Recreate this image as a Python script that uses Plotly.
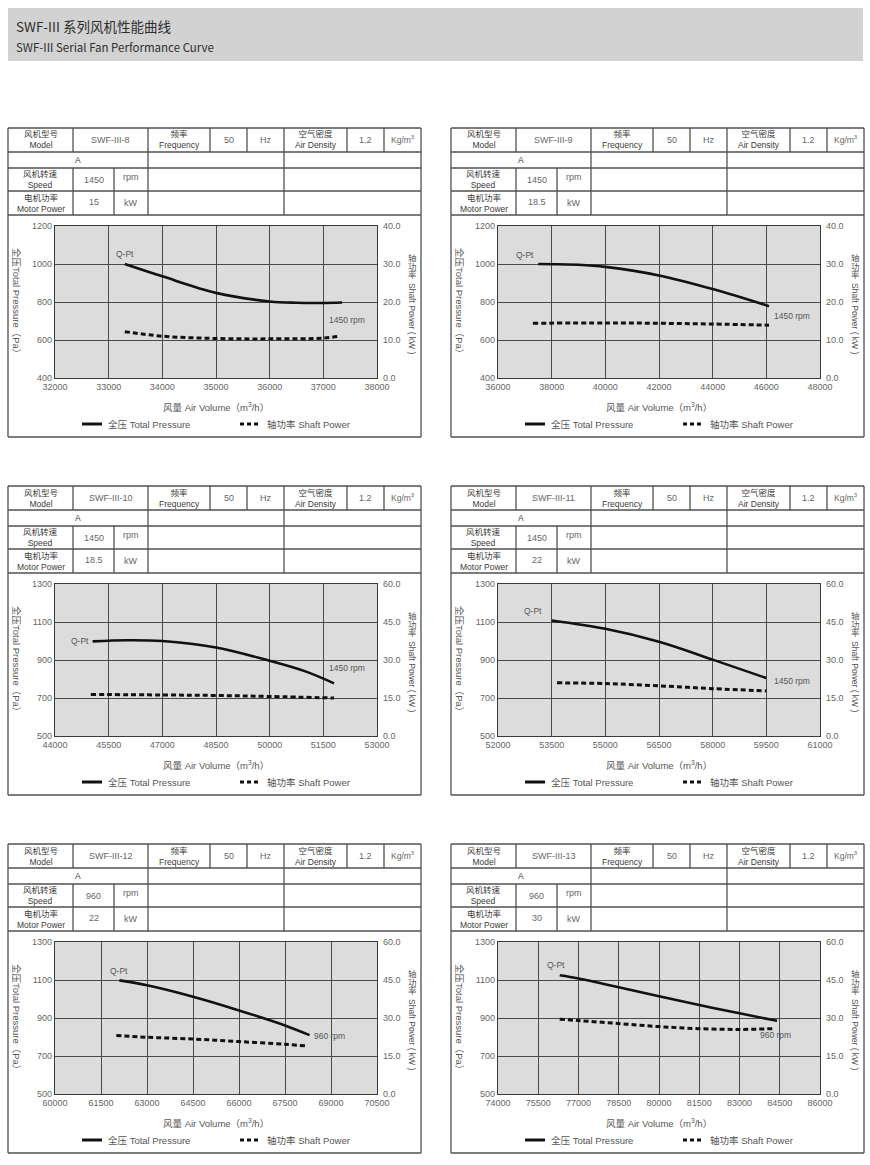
import plotly.graph_objects as go

W, H = 870, 1165

# table texts
models = ["SWF-III-8", "SWF-III-9", "SWF-III-10", "SWF-III-11", "SWF-III-12", "SWF-III-13"]
speeds = ["1450", "1450", "1450", "1450", "960", "960"]
motor_kw = ["15", "18.5", "18.5", "22", "22", "30"]
rpm_labels = ["1450 rpm", "1450 rpm", "1450 rpm", "1450 rpm", "960 rpm", "960 rpm"]

# axis ticks
x_ticks_8 = [32000, 33000, 34000, 35000, 36000, 37000, 38000]
x_ticks_9 = [36000, 38000, 40000, 42000, 44000, 46000, 48000]
x_ticks_10 = [44000, 45500, 47000, 48500, 50000, 51500, 53000]
x_ticks_11 = [52000, 53500, 55000, 56500, 58000, 59500, 61000]
x_ticks_12 = [60000, 61500, 63000, 64500, 66000, 67500, 69000, 70500]
x_ticks_13 = [74000, 75500, 77000, 78500, 80000, 81500, 83000, 84500, 86000]
p_ticks_a = [400, 600, 800, 1000, 1200]
p_ticks_b = [500, 700, 900, 1100, 1300]
w_ticks_a = [0, 10, 20, 30, 40]
w_ticks_b = [0, 15, 30, 45, 60]

# curves: air volume (m3/h), total pressure (Pa), shaft power (kW)
q_p_8 = [33300, 34000, 35000, 36000, 36500, 37000, 37350]
p_8 = [1000, 935, 848, 803, 796, 795, 797]
q_w_8 = [33300, 34000, 35000, 36000, 37000, 37300]
w_8 = [12.2, 11.0, 10.4, 10.3, 10.5, 11.0]

q_p_9 = [37500, 39000, 40000, 42000, 44000, 46100]
p_9 = [1000, 996, 985, 940, 868, 778]
q_w_9 = [37300, 40000, 42000, 44000, 46100]
w_9 = [14.4, 14.5, 14.4, 14.2, 13.9]

q_p_10 = [45050, 46000, 47000, 48500, 50000, 51000, 51800]
p_10 = [998, 1004, 1000, 966, 896, 840, 777]
q_w_10 = [45000, 47000, 48500, 50000, 51800]
w_10 = [16.4, 16.2, 16.0, 15.6, 15.0]

q_p_11 = [53500, 55000, 56500, 58000, 59500]
p_11 = [1108, 1064, 996, 902, 805]
q_w_11 = [53650, 55000, 56500, 58000, 59500]
w_11 = [21.0, 20.7, 19.8, 18.7, 17.8]

q_p_12 = [62100, 63000, 64500, 66000, 67500, 68300]
p_12 = [1098, 1072, 1012, 940, 861, 810]
q_w_12 = [62000, 63000, 64500, 66000, 67500, 68200]
w_12 = [23.1, 22.4, 21.7, 20.7, 19.6, 19.0]

q_p_13 = [76300, 77000, 78500, 80000, 81500, 83000, 84400]
p_13 = [1125, 1108, 1062, 1014, 968, 925, 885]
q_w_13 = [76300, 77000, 78500, 80000, 81500, 83000, 84300]
w_13 = [29.5, 29.0, 27.8, 26.6, 25.8, 25.5, 25.8]

charts = [
    (x_ticks_8, p_ticks_a, w_ticks_a, q_p_8, p_8, q_w_8, w_8),
    (x_ticks_9, p_ticks_a, w_ticks_a, q_p_9, p_9, q_w_9, w_9),
    (x_ticks_10, p_ticks_b, w_ticks_b, q_p_10, p_10, q_w_10, w_10),
    (x_ticks_11, p_ticks_b, w_ticks_b, q_p_11, p_11, q_w_11, w_11),
    (x_ticks_12, p_ticks_b, w_ticks_b, q_p_12, p_12, q_w_12, w_12),
    (x_ticks_13, p_ticks_b, w_ticks_b, q_p_13, p_13, q_w_13, w_13),
]

# label offsets (px) from curve start / end
qpt_offsets = [(0, 10), (-13, 9), (-13, 0), (-19, 9), (0, 9), (-4, 10)]
rpm_offsets = [(5, -17), (23, -10), (13, 15), (26, -3), (20, -1), (-2, -14)]

FONT = "Liberation Sans, Arial, Noto Sans CJK SC, sans-serif"
TXT = "#3a3a3a"
VAL = "#666"
LINE = "#505050"


def px(x):
    return x / W


def py(y):
    return 1 - y / H


fig = go.Figure()
shapes = []
annotations = []


def hline(x0, x1, y, color=LINE, width=1.3):
    shapes.append(dict(type="line", xref="paper", yref="paper", x0=px(x0), x1=px(x1),
                       y0=py(y), y1=py(y), line=dict(color=color, width=width)))


def vline(x, y0, y1, color=LINE, width=1.3):
    shapes.append(dict(type="line", xref="paper", yref="paper", x0=px(x), x1=px(x),
                       y0=py(y0), y1=py(y1), line=dict(color=color, width=width)))


def label(x, y, text, size=8, anchor="center", angle=0, color=TXT, family=FONT):
    annotations.append(dict(xref="paper", yref="paper", x=px(x), y=py(y), text=text,
                            showarrow=False, xanchor=anchor, yanchor="middle", textangle=angle,
                            font=dict(family=family, size=size, color=color)))


# header bar
shapes.append(dict(type="rect", xref="paper", yref="paper", x0=px(8), x1=px(863), y0=py(61), y1=py(8),
                   fillcolor="#d2d2d2", line=dict(width=0), layer="below"))
TITLE_FONT = "Noto Sans CJK SC, sans-serif"
label(14, 26, "SWF-III 系列风机性能曲线", size=13.5, anchor="left", color="#2e2e2e", family=TITLE_FONT)
label(14, 47, "SWF-III Serial Fan Performance Curve", size=11.5, anchor="left", color="#2e2e2e",
      family=TITLE_FONT)

panel_x = [8, 451]
panel_y = [128, 486, 844]

for i, (xt, pt, wt, qp, pp, qw, ww) in enumerate(charts):
    x0 = panel_x[i % 2]
    y0 = panel_y[i // 2]

    # ---- table ----
    for yy in [0, 24, 40, 63, 87, 309]:
        hline(x0, x0 + 413, y0 + yy)
    vline(x0, y0, y0 + 309)
    vline(x0 + 413, y0, y0 + 309)
    for xx in [65, 140, 202, 239, 276, 339, 376]:
        vline(x0 + xx, y0, y0 + 24)
    for xx in [140, 276]:
        vline(x0 + xx, y0 + 24, y0 + 87)
    for xx in [65, 106]:
        vline(x0 + xx, y0 + 40, y0 + 87)

    label(x0 + 32.5, y0 + 12, "风机型号<br>Model", size=8.5)
    label(x0 + 102.5, y0 + 12, models[i], size=9, color=VAL)
    label(x0 + 171, y0 + 12, "频率<br>Frequency", size=8.5)
    label(x0 + 220.5, y0 + 12, "50", size=9, color=VAL)
    label(x0 + 257.5, y0 + 12, "Hz", size=9, color=VAL)
    label(x0 + 307.5, y0 + 12, "空气密度<br>Air Density", size=8.5)
    label(x0 + 357.5, y0 + 12, "1.2", size=9, color=VAL)
    label(x0 + 394.5, y0 + 11, "Kg/m<sup>3</sup>", size=8.5, color=VAL)
    label(x0 + 70, y0 + 32, "A", size=8.5)
    label(x0 + 32.5, y0 + 51.5, "风机转速<br>Speed", size=8.5)
    label(x0 + 85.5, y0 + 52, speeds[i], size=9, color=VAL)
    label(x0 + 123, y0 + 49, "rpm", size=9, color=VAL)
    label(x0 + 32.5, y0 + 75, "电机功率<br>Motor Power", size=8.5)
    label(x0 + 85.5, y0 + 74, motor_kw[i], size=9, color=VAL)
    label(x0 + 123, y0 + 75, "kW", size=9, color=VAL)

    # ---- axes ----
    xid = "x" if i == 0 else f"x{i + 1}"
    yl = 2 * i + 1
    yr = 2 * i + 2
    ylid = "y" if yl == 1 else f"y{yl}"
    yrid = f"y{yr}"
    xdom = [px(x0 + 47), px(x0 + 369)]
    ydom = [py(y0 + 250), py(y0 + 98)]
    tick_font = dict(family=FONT, size=9, color="#666")

    fig.layout["xaxis" if i == 0 else f"xaxis{i + 1}"] = dict(
        domain=xdom, anchor=ylid, range=[xt[0], xt[-1]], tickvals=xt,
        ticktext=[str(v) for v in xt], showgrid=True, gridcolor="#4a4a4a", gridwidth=1,
        showline=True, linecolor="#3a3a3a", linewidth=1.3, mirror=True, zeroline=False,
        ticks="", tickfont=tick_font, fixedrange=True, automargin=False)
    fig.layout["yaxis" if yl == 1 else f"yaxis{yl}"] = dict(
        domain=ydom, anchor=xid, range=[pt[0], pt[-1]], tickvals=pt,
        showgrid=True, gridcolor="#4a4a4a", gridwidth=1, showline=True,
        linecolor="#3a3a3a", linewidth=1.3, mirror=True, zeroline=False,
        ticks="", tickfont=tick_font, fixedrange=True, automargin=False)
    fig.layout[f"yaxis{yr}"] = dict(
        overlaying=ylid, side="right", anchor=xid, range=[wt[0], wt[-1]], tickvals=wt,
        tickformat=".1f", showgrid=False, zeroline=False, ticks="", tickfont=tick_font,
        ticklabelstandoff=5, fixedrange=True, automargin=False)

    fig.add_trace(go.Scatter(x=qp, y=pp, xaxis=xid, yaxis=ylid, mode="lines",
                             line=dict(color="#111", width=2.6, shape="spline"),
                             showlegend=False, hoverinfo="skip"))
    fig.add_trace(go.Scatter(x=qw, y=ww, xaxis=xid, yaxis=yrid, mode="lines",
                             line=dict(color="#111", width=3, dash="5px,3px", shape="spline"),
                             showlegend=False, hoverinfo="skip"))

    dx, dy = qpt_offsets[i]
    annotations.append(dict(xref=xid, yref=ylid, x=qp[0], y=pp[0], text="Q-Pt", showarrow=False,
                            xshift=dx, yshift=dy, font=dict(family=FONT, size=8.5, color="#555")))
    dx, dy = rpm_offsets[i]
    annotations.append(dict(xref=xid, yref=ylid, x=qp[-1], y=pp[-1], text=rpm_labels[i],
                            showarrow=False, xshift=dx, yshift=dy,
                            font=dict(family=FONT, size=8.5, color="#555")))

    # ---- axis titles ----
    label(x0 + 208, y0 + 279, "风量 Air Volume（m<sup>3</sup>/h）", size=9.5, color="#555")
    label(x0 + 9, y0 + 175, "全压Total Pressure（Pa）", size=9.5, angle=90, color="#555")
    # right title: chinese characters stacked upright, english part rotated
    for k, ch in enumerate("轴功率"):
        label(x0 + 404, y0 + 130 + 8.7 * k, ch, size=8.5, color="#555")
    label(x0 + 404, y0 + 190, "Shaft Power ( kW )", size=8.5, angle=90, color="#555")

    # ---- legend ----
    shapes.append(dict(type="line", xref="paper", yref="paper", x0=px(x0 + 74), x1=px(x0 + 94),
                       y0=py(y0 + 296), y1=py(y0 + 296), line=dict(color="#111", width=3)))
    label(x0 + 98, y0 + 296, "全压 Total Pressure", size=9.5, anchor="left", color="#555")
    shapes.append(dict(type="line", xref="paper", yref="paper", x0=px(x0 + 232), x1=px(x0 + 253),
                       y0=py(y0 + 296), y1=py(y0 + 296),
                       line=dict(color="#111", width=3, dash="4px,3px")))
    label(x0 + 257, y0 + 296, "轴功率 Shaft Power", size=9.5, anchor="left", color="#555")

fig.update_layout(
    width=W, height=H, autosize=False,
    margin=dict(l=0, r=0, t=0, b=0, pad=0, autoexpand=False),
    paper_bgcolor="white", plot_bgcolor="#dcdcdc",
    shapes=shapes, annotations=annotations, showlegend=False,
)

# the page body has a default 8px margin; drop it so the figure sits at the window origin
fig.write_html("out.html", config={"displayModeBar": False},
               post_script="document.body.style.margin='0';document.body.style.padding='0';")
